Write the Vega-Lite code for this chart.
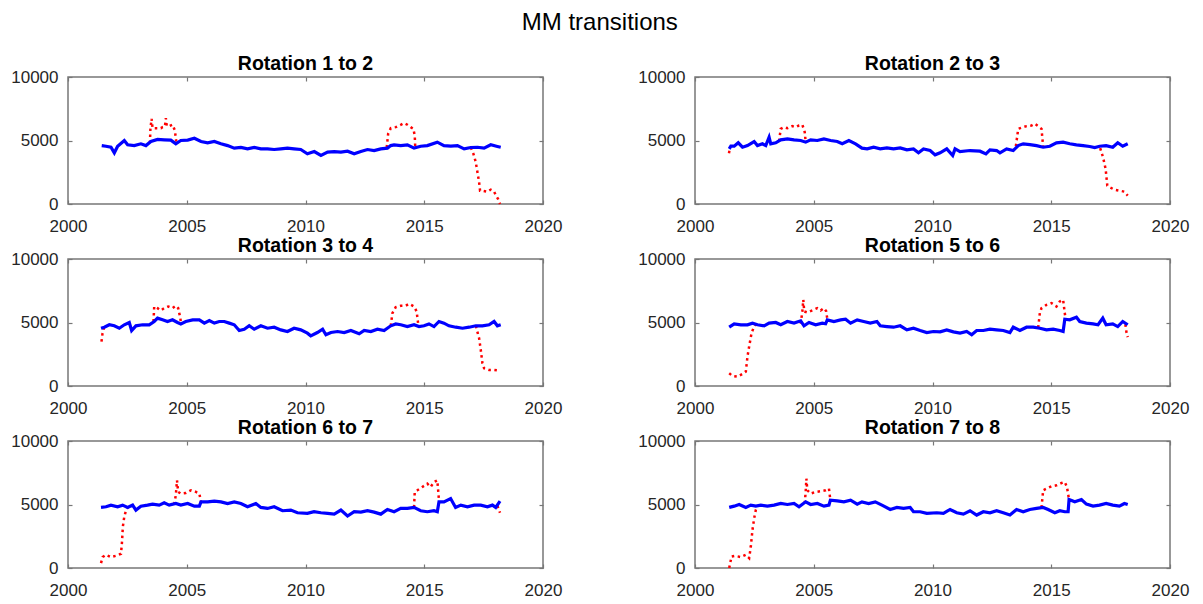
{
"$schema": "https://vega.github.io/schema/vega-lite/v6.json",
"padding": {"left": 9, "top": 11, "right": 5, "bottom": 5},
"title": {"text": "MM transitions", "fontSize": 24, "fontWeight": "normal", "font": "Liberation Sans", "color": "#000000", "anchor": "middle", "offset": 18},
"datasets": {
"blue": [
{"p":1,"t":2001.42,"v":4600},{"p":1,"t":2001.6,"v":4550},{"p":1,"t":2001.81,"v":4470},{"p":1,"t":2001.95,"v":4030},{"p":1,"t":2002.09,"v":4550},{"p":1,"t":2002.37,"v":5000},{"p":1,"t":2002.51,"v":4660},{"p":1,"t":2002.79,"v":4600},{"p":1,"t":2003.07,"v":4740},{"p":1,"t":2003.28,"v":4600},{"p":1,"t":2003.49,"v":4920},{"p":1,"t":2003.77,"v":5080},{"p":1,"t":2004.05,"v":5050},{"p":1,"t":2004.33,"v":5030},{"p":1,"t":2004.54,"v":4740},{"p":1,"t":2004.75,"v":5000},{"p":1,"t":2005.04,"v":5030},{"p":1,"t":2005.32,"v":5180},{"p":1,"t":2005.6,"v":4920},{"p":1,"t":2005.88,"v":4820},{"p":1,"t":2006.16,"v":4920},{"p":1,"t":2006.44,"v":4740},{"p":1,"t":2006.72,"v":4600},{"p":1,"t":2007.0,"v":4400},{"p":1,"t":2007.28,"v":4450},{"p":1,"t":2007.56,"v":4340},{"p":1,"t":2007.84,"v":4450},{"p":1,"t":2008.12,"v":4340},{"p":1,"t":2008.4,"v":4340},{"p":1,"t":2008.68,"v":4290},{"p":1,"t":2008.96,"v":4340},{"p":1,"t":2009.24,"v":4400},{"p":1,"t":2009.52,"v":4340},{"p":1,"t":2009.8,"v":4290},{"p":1,"t":2010.08,"v":3950},{"p":1,"t":2010.37,"v":4130},{"p":1,"t":2010.65,"v":3820},{"p":1,"t":2010.93,"v":4080},{"p":1,"t":2011.21,"v":4130},{"p":1,"t":2011.49,"v":4080},{"p":1,"t":2011.77,"v":4160},{"p":1,"t":2012.05,"v":3950},{"p":1,"t":2012.33,"v":4130},{"p":1,"t":2012.61,"v":4290},{"p":1,"t":2012.89,"v":4210},{"p":1,"t":2013.17,"v":4340},{"p":1,"t":2013.45,"v":4400},{"p":1,"t":2013.59,"v":4600},{"p":1,"t":2013.73,"v":4660},{"p":1,"t":2014.01,"v":4600},{"p":1,"t":2014.29,"v":4660},{"p":1,"t":2014.57,"v":4400},{"p":1,"t":2014.85,"v":4550},{"p":1,"t":2015.13,"v":4600},{"p":1,"t":2015.55,"v":4870},{"p":1,"t":2015.83,"v":4600},{"p":1,"t":2016.12,"v":4550},{"p":1,"t":2016.4,"v":4600},{"p":1,"t":2016.68,"v":4340},{"p":1,"t":2016.96,"v":4450},{"p":1,"t":2017.24,"v":4470},{"p":1,"t":2017.52,"v":4400},{"p":1,"t":2017.8,"v":4660},{"p":1,"t":2018.08,"v":4530},{"p":1,"t":2018.22,"v":4470},
{"p":2,"t":2001.44,"v":4340},{"p":2,"t":2001.51,"v":4550},{"p":2,"t":2001.65,"v":4550},{"p":2,"t":2001.82,"v":4820},{"p":2,"t":2002.0,"v":4470},{"p":2,"t":2002.21,"v":4600},{"p":2,"t":2002.49,"v":4920},{"p":2,"t":2002.63,"v":4600},{"p":2,"t":2002.84,"v":4740},{"p":2,"t":2002.98,"v":4600},{"p":2,"t":2003.12,"v":5260},{"p":2,"t":2003.19,"v":4740},{"p":2,"t":2003.4,"v":4820},{"p":2,"t":2003.61,"v":5050},{"p":2,"t":2003.89,"v":5130},{"p":2,"t":2004.17,"v":5050},{"p":2,"t":2004.45,"v":5000},{"p":2,"t":2004.66,"v":4870},{"p":2,"t":2004.87,"v":5050},{"p":2,"t":2005.15,"v":5000},{"p":2,"t":2005.43,"v":5130},{"p":2,"t":2005.71,"v":5000},{"p":2,"t":2005.99,"v":4920},{"p":2,"t":2006.2,"v":4740},{"p":2,"t":2006.48,"v":5000},{"p":2,"t":2006.76,"v":4740},{"p":2,"t":2007.03,"v":4400},{"p":2,"t":2007.25,"v":4340},{"p":2,"t":2007.52,"v":4470},{"p":2,"t":2007.8,"v":4340},{"p":2,"t":2008.08,"v":4420},{"p":2,"t":2008.36,"v":4340},{"p":2,"t":2008.64,"v":4420},{"p":2,"t":2008.92,"v":4260},{"p":2,"t":2009.2,"v":4340},{"p":2,"t":2009.41,"v":4030},{"p":2,"t":2009.62,"v":4340},{"p":2,"t":2009.9,"v":4210},{"p":2,"t":2010.11,"v":3870},{"p":2,"t":2010.32,"v":4030},{"p":2,"t":2010.6,"v":4340},{"p":2,"t":2010.85,"v":3820},{"p":2,"t":2010.95,"v":4340},{"p":2,"t":2011.16,"v":4130},{"p":2,"t":2011.58,"v":4210},{"p":2,"t":2012.0,"v":4160},{"p":2,"t":2012.25,"v":3950},{"p":2,"t":2012.42,"v":4260},{"p":2,"t":2012.7,"v":4210},{"p":2,"t":2012.84,"v":4030},{"p":2,"t":2013.12,"v":4340},{"p":2,"t":2013.4,"v":4210},{"p":2,"t":2013.61,"v":4600},{"p":2,"t":2013.82,"v":4740},{"p":2,"t":2014.1,"v":4680},{"p":2,"t":2014.38,"v":4600},{"p":2,"t":2014.66,"v":4470},{"p":2,"t":2014.94,"v":4550},{"p":2,"t":2015.22,"v":4820},{"p":2,"t":2015.5,"v":4870},{"p":2,"t":2015.78,"v":4740},{"p":2,"t":2016.06,"v":4660},{"p":2,"t":2016.34,"v":4600},{"p":2,"t":2016.62,"v":4530},{"p":2,"t":2016.83,"v":4450},{"p":2,"t":2017.04,"v":4550},{"p":2,"t":2017.31,"v":4600},{"p":2,"t":2017.59,"v":4470},{"p":2,"t":2017.8,"v":4820},{"p":2,"t":2018.01,"v":4550},{"p":2,"t":2018.22,"v":4740},
{"p":3,"t":2001.39,"v":4550},{"p":3,"t":2001.53,"v":4630},{"p":3,"t":2001.74,"v":4820},{"p":3,"t":2001.95,"v":4740},{"p":3,"t":2002.16,"v":4550},{"p":3,"t":2002.37,"v":4820},{"p":3,"t":2002.58,"v":5000},{"p":3,"t":2002.68,"v":4370},{"p":3,"t":2002.86,"v":4740},{"p":3,"t":2003.14,"v":4820},{"p":3,"t":2003.42,"v":4820},{"p":3,"t":2003.63,"v":5080},{"p":3,"t":2003.77,"v":5340},{"p":3,"t":2003.98,"v":5210},{"p":3,"t":2004.19,"v":5080},{"p":3,"t":2004.4,"v":5210},{"p":3,"t":2004.61,"v":5000},{"p":3,"t":2004.75,"v":4890},{"p":3,"t":2004.96,"v":5080},{"p":3,"t":2005.25,"v":5210},{"p":3,"t":2005.53,"v":5210},{"p":3,"t":2005.74,"v":4950},{"p":3,"t":2005.95,"v":5160},{"p":3,"t":2006.16,"v":4950},{"p":3,"t":2006.37,"v":5080},{"p":3,"t":2006.58,"v":5080},{"p":3,"t":2006.79,"v":4950},{"p":3,"t":2007.0,"v":4820},{"p":3,"t":2007.21,"v":4370},{"p":3,"t":2007.42,"v":4470},{"p":3,"t":2007.63,"v":4740},{"p":3,"t":2007.84,"v":4470},{"p":3,"t":2008.12,"v":4740},{"p":3,"t":2008.4,"v":4550},{"p":3,"t":2008.68,"v":4630},{"p":3,"t":2008.96,"v":4420},{"p":3,"t":2009.24,"v":4290},{"p":3,"t":2009.52,"v":4550},{"p":3,"t":2009.8,"v":4420},{"p":3,"t":2010.08,"v":4160},{"p":3,"t":2010.22,"v":3950},{"p":3,"t":2010.5,"v":4210},{"p":3,"t":2010.72,"v":4470},{"p":3,"t":2010.86,"v":4030},{"p":3,"t":2011.07,"v":4210},{"p":3,"t":2011.35,"v":4290},{"p":3,"t":2011.63,"v":4210},{"p":3,"t":2011.91,"v":4370},{"p":3,"t":2012.26,"v":4110},{"p":3,"t":2012.47,"v":4370},{"p":3,"t":2012.75,"v":4290},{"p":3,"t":2013.03,"v":4470},{"p":3,"t":2013.31,"v":4370},{"p":3,"t":2013.59,"v":4740},{"p":3,"t":2013.8,"v":4890},{"p":3,"t":2014.01,"v":4820},{"p":3,"t":2014.29,"v":4680},{"p":3,"t":2014.57,"v":4820},{"p":3,"t":2014.78,"v":4680},{"p":3,"t":2014.99,"v":4740},{"p":3,"t":2015.2,"v":4890},{"p":3,"t":2015.41,"v":4680},{"p":3,"t":2015.62,"v":5080},{"p":3,"t":2015.83,"v":4950},{"p":3,"t":2016.04,"v":4740},{"p":3,"t":2016.33,"v":4630},{"p":3,"t":2016.61,"v":4550},{"p":3,"t":2016.89,"v":4630},{"p":3,"t":2017.17,"v":4740},{"p":3,"t":2017.45,"v":4740},{"p":3,"t":2017.73,"v":4820},{"p":3,"t":2017.94,"v":5080},{"p":3,"t":2018.08,"v":4740},{"p":3,"t":2018.22,"v":4820},
{"p":4,"t":2001.44,"v":4630},{"p":4,"t":2001.65,"v":4890},{"p":4,"t":2001.93,"v":4820},{"p":4,"t":2002.21,"v":4820},{"p":4,"t":2002.42,"v":4950},{"p":4,"t":2002.63,"v":4820},{"p":4,"t":2002.91,"v":4740},{"p":4,"t":2003.12,"v":4950},{"p":4,"t":2003.4,"v":5000},{"p":4,"t":2003.61,"v":4820},{"p":4,"t":2003.89,"v":5080},{"p":4,"t":2004.17,"v":4950},{"p":4,"t":2004.45,"v":5130},{"p":4,"t":2004.59,"v":4740},{"p":4,"t":2004.8,"v":5000},{"p":4,"t":2005.08,"v":4820},{"p":4,"t":2005.36,"v":4950},{"p":4,"t":2005.5,"v":4900},{"p":4,"t":2005.57,"v":5210},{"p":4,"t":2005.85,"v":5080},{"p":4,"t":2006.13,"v":5210},{"p":4,"t":2006.34,"v":5260},{"p":4,"t":2006.55,"v":4950},{"p":4,"t":2006.83,"v":5210},{"p":4,"t":2007.1,"v":5080},{"p":4,"t":2007.38,"v":4950},{"p":4,"t":2007.66,"v":5080},{"p":4,"t":2007.8,"v":4740},{"p":4,"t":2008.08,"v":4680},{"p":4,"t":2008.36,"v":4630},{"p":4,"t":2008.64,"v":4740},{"p":4,"t":2008.92,"v":4420},{"p":4,"t":2009.2,"v":4550},{"p":4,"t":2009.48,"v":4370},{"p":4,"t":2009.76,"v":4210},{"p":4,"t":2010.04,"v":4290},{"p":4,"t":2010.32,"v":4260},{"p":4,"t":2010.6,"v":4420},{"p":4,"t":2010.88,"v":4260},{"p":4,"t":2011.16,"v":4160},{"p":4,"t":2011.44,"v":4290},{"p":4,"t":2011.65,"v":4030},{"p":4,"t":2011.86,"v":4370},{"p":4,"t":2012.14,"v":4370},{"p":4,"t":2012.42,"v":4470},{"p":4,"t":2012.7,"v":4420},{"p":4,"t":2012.98,"v":4370},{"p":4,"t":2013.26,"v":4210},{"p":4,"t":2013.4,"v":4630},{"p":4,"t":2013.68,"v":4370},{"p":4,"t":2013.96,"v":4630},{"p":4,"t":2014.24,"v":4630},{"p":4,"t":2014.52,"v":4550},{"p":4,"t":2014.8,"v":4420},{"p":4,"t":2015.08,"v":4470},{"p":4,"t":2015.36,"v":4370},{"p":4,"t":2015.5,"v":4290},{"p":4,"t":2015.57,"v":5260},{"p":4,"t":2015.78,"v":5210},{"p":4,"t":2016.06,"v":5420},{"p":4,"t":2016.2,"v":5080},{"p":4,"t":2016.48,"v":4950},{"p":4,"t":2016.76,"v":4890},{"p":4,"t":2016.97,"v":4820},{"p":4,"t":2017.17,"v":5340},{"p":4,"t":2017.31,"v":4820},{"p":4,"t":2017.59,"v":4890},{"p":4,"t":2017.8,"v":4680},{"p":4,"t":2018.01,"v":5080},{"p":4,"t":2018.22,"v":4820},
{"p":5,"t":2001.39,"v":4770},{"p":5,"t":2001.6,"v":4820},{"p":5,"t":2001.81,"v":4950},{"p":5,"t":2002.09,"v":4820},{"p":5,"t":2002.3,"v":4950},{"p":5,"t":2002.51,"v":4770},{"p":5,"t":2002.72,"v":4950},{"p":5,"t":2002.86,"v":4560},{"p":5,"t":2003.07,"v":4870},{"p":5,"t":2003.35,"v":4950},{"p":5,"t":2003.56,"v":5030},{"p":5,"t":2003.84,"v":4950},{"p":5,"t":2004.05,"v":5130},{"p":5,"t":2004.26,"v":4950},{"p":5,"t":2004.54,"v":5080},{"p":5,"t":2004.75,"v":4950},{"p":5,"t":2005.04,"v":5080},{"p":5,"t":2005.32,"v":4870},{"p":5,"t":2005.53,"v":4870},{"p":5,"t":2005.6,"v":5210},{"p":5,"t":2005.88,"v":5210},{"p":5,"t":2006.16,"v":5260},{"p":5,"t":2006.44,"v":5210},{"p":5,"t":2006.72,"v":5080},{"p":5,"t":2007.0,"v":5210},{"p":5,"t":2007.28,"v":5080},{"p":5,"t":2007.56,"v":4820},{"p":5,"t":2007.91,"v":5080},{"p":5,"t":2008.12,"v":4770},{"p":5,"t":2008.4,"v":4690},{"p":5,"t":2008.68,"v":4820},{"p":5,"t":2009.03,"v":4510},{"p":5,"t":2009.38,"v":4560},{"p":5,"t":2009.66,"v":4350},{"p":5,"t":2010.08,"v":4300},{"p":5,"t":2010.36,"v":4430},{"p":5,"t":2010.65,"v":4350},{"p":5,"t":2010.93,"v":4300},{"p":5,"t":2011.21,"v":4240},{"p":5,"t":2011.49,"v":4560},{"p":5,"t":2011.77,"v":4090},{"p":5,"t":2012.05,"v":4430},{"p":5,"t":2012.33,"v":4400},{"p":5,"t":2012.61,"v":4510},{"p":5,"t":2012.89,"v":4400},{"p":5,"t":2013.17,"v":4240},{"p":5,"t":2013.45,"v":4610},{"p":5,"t":2013.73,"v":4430},{"p":5,"t":2014.01,"v":4690},{"p":5,"t":2014.29,"v":4690},{"p":5,"t":2014.57,"v":4770},{"p":5,"t":2014.85,"v":4510},{"p":5,"t":2015.13,"v":4430},{"p":5,"t":2015.41,"v":4510},{"p":5,"t":2015.55,"v":4430},{"p":5,"t":2015.62,"v":5210},{"p":5,"t":2015.83,"v":5210},{"p":5,"t":2016.11,"v":5470},{"p":5,"t":2016.32,"v":4770},{"p":5,"t":2016.54,"v":4950},{"p":5,"t":2016.82,"v":4820},{"p":5,"t":2017.1,"v":4950},{"p":5,"t":2017.38,"v":4950},{"p":5,"t":2017.66,"v":4820},{"p":5,"t":2017.87,"v":4950},{"p":5,"t":2018.01,"v":4770},{"p":5,"t":2018.19,"v":5260},
{"p":6,"t":2001.44,"v":4770},{"p":6,"t":2001.65,"v":4870},{"p":6,"t":2001.86,"v":5000},{"p":6,"t":2002.14,"v":4770},{"p":6,"t":2002.35,"v":4950},{"p":6,"t":2002.56,"v":4870},{"p":6,"t":2002.77,"v":4950},{"p":6,"t":2003.05,"v":4870},{"p":6,"t":2003.33,"v":4950},{"p":6,"t":2003.61,"v":5080},{"p":6,"t":2003.89,"v":5000},{"p":6,"t":2004.17,"v":5080},{"p":6,"t":2004.38,"v":4820},{"p":6,"t":2004.66,"v":5210},{"p":6,"t":2004.87,"v":5000},{"p":6,"t":2005.15,"v":5080},{"p":6,"t":2005.43,"v":4870},{"p":6,"t":2005.64,"v":4950},{"p":6,"t":2005.7,"v":5340},{"p":6,"t":2005.99,"v":5290},{"p":6,"t":2006.27,"v":5210},{"p":6,"t":2006.55,"v":5340},{"p":6,"t":2006.83,"v":5030},{"p":6,"t":2007.03,"v":5210},{"p":6,"t":2007.31,"v":5080},{"p":6,"t":2007.59,"v":5210},{"p":6,"t":2007.87,"v":4950},{"p":6,"t":2008.22,"v":4610},{"p":6,"t":2008.5,"v":4770},{"p":6,"t":2008.78,"v":4690},{"p":6,"t":2009.06,"v":4770},{"p":6,"t":2009.2,"v":4430},{"p":6,"t":2009.48,"v":4430},{"p":6,"t":2009.76,"v":4300},{"p":6,"t":2010.18,"v":4350},{"p":6,"t":2010.46,"v":4300},{"p":6,"t":2010.74,"v":4610},{"p":6,"t":2011.02,"v":4350},{"p":6,"t":2011.3,"v":4240},{"p":6,"t":2011.58,"v":4510},{"p":6,"t":2011.86,"v":4170},{"p":6,"t":2012.14,"v":4430},{"p":6,"t":2012.42,"v":4350},{"p":6,"t":2012.7,"v":4510},{"p":6,"t":2012.98,"v":4350},{"p":6,"t":2013.26,"v":4170},{"p":6,"t":2013.54,"v":4610},{"p":6,"t":2013.82,"v":4430},{"p":6,"t":2014.1,"v":4610},{"p":6,"t":2014.38,"v":4690},{"p":6,"t":2014.66,"v":4770},{"p":6,"t":2014.87,"v":4610},{"p":6,"t":2015.15,"v":4350},{"p":6,"t":2015.36,"v":4510},{"p":6,"t":2015.57,"v":4430},{"p":6,"t":2015.71,"v":4430},{"p":6,"t":2015.75,"v":5390},{"p":6,"t":2015.99,"v":5210},{"p":6,"t":2016.27,"v":5390},{"p":6,"t":2016.48,"v":5030},{"p":6,"t":2016.76,"v":4870},{"p":6,"t":2017.03,"v":4950},{"p":6,"t":2017.31,"v":5080},{"p":6,"t":2017.59,"v":4950},{"p":6,"t":2017.87,"v":4870},{"p":6,"t":2018.08,"v":5080},{"p":6,"t":2018.22,"v":5000}
],
"red": [
{"p":1,"g":1,"t":2003.45,"v":4800},{"p":1,"g":1,"t":2003.47,"v":5920},{"p":1,"g":1,"t":2003.52,"v":6710},{"p":1,"g":1,"t":2003.56,"v":5970},{"p":1,"g":1,"t":2003.91,"v":5970},{"p":1,"g":1,"t":2003.98,"v":6050},{"p":1,"g":1,"t":2004.08,"v":6100},{"p":1,"g":1,"t":2004.12,"v":6760},{"p":1,"g":1,"t":2004.16,"v":6130},{"p":1,"g":1,"t":2004.26,"v":6130},{"p":1,"g":1,"t":2004.4,"v":6240},{"p":1,"g":1,"t":2004.5,"v":5790},{"p":1,"g":1,"t":2004.57,"v":4740},
{"p":1,"g":2,"t":2013.42,"v":4450},{"p":1,"g":2,"t":2013.48,"v":5530},{"p":1,"g":2,"t":2013.59,"v":5970},{"p":1,"g":2,"t":2013.8,"v":6050},{"p":1,"g":2,"t":2014.01,"v":6240},{"p":1,"g":2,"t":2014.15,"v":6370},{"p":1,"g":2,"t":2014.29,"v":6240},{"p":1,"g":2,"t":2014.43,"v":6050},{"p":1,"g":2,"t":2014.54,"v":5920},{"p":1,"g":2,"t":2014.6,"v":5390},{"p":1,"g":2,"t":2014.62,"v":4500},
{"p":1,"g":3,"t":2016.96,"v":4450},{"p":1,"g":3,"t":2017.07,"v":3950},{"p":1,"g":3,"t":2017.17,"v":3290},{"p":1,"g":3,"t":2017.24,"v":2500},{"p":1,"g":3,"t":2017.31,"v":1710},{"p":1,"g":3,"t":2017.35,"v":1050},{"p":1,"g":3,"t":2017.45,"v":1050},{"p":1,"g":3,"t":2017.66,"v":970},{"p":1,"g":3,"t":2017.8,"v":1130},{"p":1,"g":3,"t":2017.94,"v":970},{"p":1,"g":3,"t":2018.01,"v":710},{"p":1,"g":3,"t":2018.11,"v":390},{"p":1,"g":3,"t":2018.19,"v":0},
{"p":2,"g":0,"t":2001.43,"v":4000},{"p":2,"g":0,"t":2001.47,"v":4400},
{"p":2,"g":1,"t":2003.54,"v":4950},{"p":2,"g":1,"t":2003.61,"v":5920},{"p":2,"g":1,"t":2003.75,"v":6050},{"p":2,"g":1,"t":2003.89,"v":5970},{"p":2,"g":1,"t":2004.1,"v":6130},{"p":2,"g":1,"t":2004.24,"v":6050},{"p":2,"g":1,"t":2004.38,"v":6180},{"p":2,"g":1,"t":2004.52,"v":6240},{"p":2,"g":1,"t":2004.62,"v":5660},{"p":2,"g":1,"t":2004.66,"v":4900},
{"p":2,"g":2,"t":2013.51,"v":4550},{"p":2,"g":2,"t":2013.61,"v":5920},{"p":2,"g":2,"t":2013.82,"v":6050},{"p":2,"g":2,"t":2013.96,"v":6130},{"p":2,"g":2,"t":2014.17,"v":6180},{"p":2,"g":2,"t":2014.31,"v":6320},{"p":2,"g":2,"t":2014.45,"v":6130},{"p":2,"g":2,"t":2014.59,"v":5920},{"p":2,"g":2,"t":2014.66,"v":4500},
{"p":2,"g":3,"t":2017.06,"v":4400},{"p":2,"g":3,"t":2017.18,"v":3680},{"p":2,"g":3,"t":2017.29,"v":2760},{"p":2,"g":3,"t":2017.36,"v":1450},{"p":2,"g":3,"t":2017.46,"v":1320},{"p":2,"g":3,"t":2017.66,"v":1130},{"p":2,"g":3,"t":2017.87,"v":1050},{"p":2,"g":3,"t":2018.08,"v":970},{"p":2,"g":3,"t":2018.22,"v":660},
{"p":3,"g":0,"t":2001.41,"v":3500},{"p":3,"g":0,"t":2001.45,"v":4100},{"p":3,"g":0,"t":2001.52,"v":4620},
{"p":3,"g":1,"t":2003.6,"v":5080},{"p":3,"g":1,"t":2003.63,"v":6260},{"p":3,"g":1,"t":2003.77,"v":6130},{"p":3,"g":1,"t":2003.91,"v":5950},{"p":3,"g":1,"t":2004.05,"v":6130},{"p":3,"g":1,"t":2004.22,"v":6260},{"p":3,"g":1,"t":2004.4,"v":6130},{"p":3,"g":1,"t":2004.54,"v":6320},{"p":3,"g":1,"t":2004.64,"v":6130},{"p":3,"g":1,"t":2004.73,"v":5340},{"p":3,"g":1,"t":2004.76,"v":4890},
{"p":3,"g":2,"t":2013.59,"v":4740},{"p":3,"g":2,"t":2013.66,"v":5740},{"p":3,"g":2,"t":2013.8,"v":6210},{"p":3,"g":2,"t":2014.01,"v":6320},{"p":3,"g":2,"t":2014.22,"v":6320},{"p":3,"g":2,"t":2014.36,"v":6470},{"p":3,"g":2,"t":2014.57,"v":6260},{"p":3,"g":2,"t":2014.68,"v":5870},{"p":3,"g":2,"t":2014.74,"v":4950},
{"p":3,"g":3,"t":2017.17,"v":4740},{"p":3,"g":3,"t":2017.31,"v":3760},{"p":3,"g":3,"t":2017.38,"v":2840},{"p":3,"g":3,"t":2017.45,"v":1790},{"p":3,"g":3,"t":2017.52,"v":1390},{"p":3,"g":3,"t":2017.73,"v":1260},{"p":3,"g":3,"t":2017.94,"v":1260},{"p":3,"g":3,"t":2018.15,"v":1210},
{"p":4,"g":1,"t":2001.44,"v":1000},{"p":4,"g":1,"t":2001.58,"v":790},{"p":4,"g":1,"t":2001.79,"v":740},{"p":4,"g":1,"t":2002.0,"v":950},{"p":4,"g":1,"t":2002.14,"v":1130},{"p":4,"g":1,"t":2002.21,"v":2320},{"p":4,"g":1,"t":2002.28,"v":3110},{"p":4,"g":1,"t":2002.38,"v":4160},{"p":4,"g":1,"t":2002.46,"v":4550},{"p":4,"g":1,"t":2002.56,"v":4850},
{"p":4,"g":2,"t":2004.45,"v":4900},{"p":4,"g":2,"t":2004.52,"v":5870},{"p":4,"g":2,"t":2004.56,"v":6790},{"p":4,"g":2,"t":2004.6,"v":5870},{"p":4,"g":2,"t":2004.73,"v":5790},{"p":4,"g":2,"t":2004.94,"v":5950},{"p":4,"g":2,"t":2005.15,"v":6130},{"p":4,"g":2,"t":2005.29,"v":5950},{"p":4,"g":2,"t":2005.43,"v":6130},{"p":4,"g":2,"t":2005.52,"v":5900},{"p":4,"g":2,"t":2005.57,"v":5300},
{"p":4,"g":3,"t":2014.45,"v":4600},{"p":4,"g":3,"t":2014.52,"v":5740},{"p":4,"g":3,"t":2014.59,"v":6130},{"p":4,"g":3,"t":2014.8,"v":6390},{"p":4,"g":3,"t":2015.01,"v":6530},{"p":4,"g":3,"t":2015.22,"v":6260},{"p":4,"g":3,"t":2015.36,"v":6660},{"p":4,"g":3,"t":2015.5,"v":6790},{"p":4,"g":3,"t":2015.57,"v":5740},{"p":4,"g":3,"t":2015.61,"v":5210},
{"p":4,"g":4,"t":2018.12,"v":4850},{"p":4,"g":4,"t":2018.17,"v":4200},{"p":4,"g":4,"t":2018.22,"v":3850},
{"p":5,"g":1,"t":2001.39,"v":390},{"p":5,"g":1,"t":2001.46,"v":860},{"p":5,"g":1,"t":2001.6,"v":1040},{"p":5,"g":1,"t":2001.81,"v":860},{"p":5,"g":1,"t":2002.02,"v":960},{"p":5,"g":1,"t":2002.23,"v":1120},{"p":5,"g":1,"t":2002.27,"v":1950},{"p":5,"g":1,"t":2002.31,"v":3260},{"p":5,"g":1,"t":2002.37,"v":4040},{"p":5,"g":1,"t":2002.44,"v":4510},{"p":5,"g":1,"t":2002.51,"v":4770},
{"p":5,"g":2,"t":2004.47,"v":5000},{"p":5,"g":2,"t":2004.54,"v":5730},{"p":5,"g":2,"t":2004.59,"v":6900},{"p":5,"g":2,"t":2004.64,"v":5990},{"p":5,"g":2,"t":2004.75,"v":5860},{"p":5,"g":2,"t":2004.96,"v":5910},{"p":5,"g":2,"t":2005.18,"v":6120},{"p":5,"g":2,"t":2005.39,"v":5990},{"p":5,"g":2,"t":2005.53,"v":5860},{"p":5,"g":2,"t":2005.6,"v":5210},
{"p":5,"g":3,"t":2014.57,"v":4770},{"p":5,"g":3,"t":2014.6,"v":5990},{"p":5,"g":3,"t":2014.71,"v":6120},{"p":5,"g":3,"t":2014.92,"v":6380},{"p":5,"g":3,"t":2015.13,"v":6640},{"p":5,"g":3,"t":2015.27,"v":6380},{"p":5,"g":3,"t":2015.41,"v":6770},{"p":5,"g":3,"t":2015.55,"v":6900},{"p":5,"g":3,"t":2015.62,"v":5340},
{"p":5,"g":4,"t":2018.08,"v":4900},{"p":5,"g":4,"t":2018.19,"v":4350},
{"p":6,"g":1,"t":2001.44,"v":0},{"p":6,"g":1,"t":2001.54,"v":910},{"p":6,"g":1,"t":2001.68,"v":960},{"p":6,"g":1,"t":2001.93,"v":860},{"p":6,"g":1,"t":2002.14,"v":1040},{"p":6,"g":1,"t":2002.28,"v":780},{"p":6,"g":1,"t":2002.35,"v":1690},{"p":6,"g":1,"t":2002.42,"v":3000},{"p":6,"g":1,"t":2002.49,"v":3910},{"p":6,"g":1,"t":2002.56,"v":4560},{"p":6,"g":1,"t":2002.63,"v":4870},
{"p":6,"g":2,"t":2004.62,"v":5100},{"p":6,"g":2,"t":2004.66,"v":5990},{"p":6,"g":2,"t":2004.69,"v":7030},{"p":6,"g":2,"t":2004.73,"v":6120},{"p":6,"g":2,"t":2004.87,"v":5860},{"p":6,"g":2,"t":2005.08,"v":5990},{"p":6,"g":2,"t":2005.29,"v":6050},{"p":6,"g":2,"t":2005.5,"v":6120},{"p":6,"g":2,"t":2005.64,"v":6250},{"p":6,"g":2,"t":2005.7,"v":5340},
{"p":6,"g":3,"t":2014.59,"v":4750},{"p":6,"g":3,"t":2014.66,"v":6120},{"p":6,"g":3,"t":2014.8,"v":6250},{"p":6,"g":3,"t":2015.01,"v":6430},{"p":6,"g":3,"t":2015.22,"v":6510},{"p":6,"g":3,"t":2015.43,"v":6690},{"p":6,"g":3,"t":2015.57,"v":6770},{"p":6,"g":3,"t":2015.66,"v":6380},{"p":6,"g":3,"t":2015.75,"v":5390}
]
},
"columns": 2,
"spacing": {"row": 55, "column": 152},
"bounds": "flush",
"concat": [
{"title": "Rotation 1 to 2", "width": 475, "height": 127,
 "layer": [
  {"data": {"name": "red"}, "transform": [{"filter": "datum.p == 1"}], "mark": {"type": "line", "color": "#ff0000", "strokeWidth": 2.5, "strokeDash": [2.5, 3.5]},
   "encoding": {"x": {"field": "t", "type": "quantitative", "scale": {"domain": [2000, 2020]}, "axis": {"orient": "top", "values": [2000, 2005, 2010, 2015, 2020], "labels": false, "title": null}},
                "y": {"field": "v", "type": "quantitative", "scale": {"domain": [0, 10000]}, "axis": {"orient": "right", "values": [0, 5000, 10000], "labels": false, "title": null}},
                "detail": {"field": "g"}}},
  {"data": {"name": "blue"}, "transform": [{"filter": "datum.p == 1"}], "mark": {"type": "line", "color": "#0000ff", "strokeWidth": 3.2},
   "encoding": {"x": {"field": "t", "type": "quantitative", "scale": {"domain": [2000, 2020]}, "axis": {"orient": "bottom", "values": [2000, 2005, 2010, 2015, 2020], "format": "d", "title": null}},
                "y": {"field": "v", "type": "quantitative", "scale": {"domain": [0, 10000]}, "axis": {"orient": "left", "values": [0, 5000, 10000], "format": "d", "title": null}}}}
 ],
 "resolve": {"axis": {"x": "independent", "y": "independent"}}},
{"title": "Rotation 2 to 3", "width": 475, "height": 127,
 "layer": [
  {"data": {"name": "red"}, "transform": [{"filter": "datum.p == 2"}], "mark": {"type": "line", "color": "#ff0000", "strokeWidth": 2.5, "strokeDash": [2.5, 3.5]},
   "encoding": {"x": {"field": "t", "type": "quantitative", "scale": {"domain": [2000, 2020]}, "axis": {"orient": "top", "values": [2000, 2005, 2010, 2015, 2020], "labels": false, "title": null}},
                "y": {"field": "v", "type": "quantitative", "scale": {"domain": [0, 10000]}, "axis": {"orient": "right", "values": [0, 5000, 10000], "labels": false, "title": null}},
                "detail": {"field": "g"}}},
  {"data": {"name": "blue"}, "transform": [{"filter": "datum.p == 2"}], "mark": {"type": "line", "color": "#0000ff", "strokeWidth": 3.2},
   "encoding": {"x": {"field": "t", "type": "quantitative", "scale": {"domain": [2000, 2020]}, "axis": {"orient": "bottom", "values": [2000, 2005, 2010, 2015, 2020], "format": "d", "title": null}},
                "y": {"field": "v", "type": "quantitative", "scale": {"domain": [0, 10000]}, "axis": {"orient": "left", "values": [0, 5000, 10000], "format": "d", "title": null}}}}
 ],
 "resolve": {"axis": {"x": "independent", "y": "independent"}}},
{"title": "Rotation 3 to 4", "width": 475, "height": 127,
 "layer": [
  {"data": {"name": "red"}, "transform": [{"filter": "datum.p == 3"}], "mark": {"type": "line", "color": "#ff0000", "strokeWidth": 2.5, "strokeDash": [2.5, 3.5]},
   "encoding": {"x": {"field": "t", "type": "quantitative", "scale": {"domain": [2000, 2020]}, "axis": {"orient": "top", "values": [2000, 2005, 2010, 2015, 2020], "labels": false, "title": null}},
                "y": {"field": "v", "type": "quantitative", "scale": {"domain": [0, 10000]}, "axis": {"orient": "right", "values": [0, 5000, 10000], "labels": false, "title": null}},
                "detail": {"field": "g"}}},
  {"data": {"name": "blue"}, "transform": [{"filter": "datum.p == 3"}], "mark": {"type": "line", "color": "#0000ff", "strokeWidth": 3.2},
   "encoding": {"x": {"field": "t", "type": "quantitative", "scale": {"domain": [2000, 2020]}, "axis": {"orient": "bottom", "values": [2000, 2005, 2010, 2015, 2020], "format": "d", "title": null}},
                "y": {"field": "v", "type": "quantitative", "scale": {"domain": [0, 10000]}, "axis": {"orient": "left", "values": [0, 5000, 10000], "format": "d", "title": null}}}}
 ],
 "resolve": {"axis": {"x": "independent", "y": "independent"}}},
{"title": "Rotation 5 to 6", "width": 475, "height": 127,
 "layer": [
  {"data": {"name": "red"}, "transform": [{"filter": "datum.p == 4"}], "mark": {"type": "line", "color": "#ff0000", "strokeWidth": 2.5, "strokeDash": [2.5, 3.5]},
   "encoding": {"x": {"field": "t", "type": "quantitative", "scale": {"domain": [2000, 2020]}, "axis": {"orient": "top", "values": [2000, 2005, 2010, 2015, 2020], "labels": false, "title": null}},
                "y": {"field": "v", "type": "quantitative", "scale": {"domain": [0, 10000]}, "axis": {"orient": "right", "values": [0, 5000, 10000], "labels": false, "title": null}},
                "detail": {"field": "g"}}},
  {"data": {"name": "blue"}, "transform": [{"filter": "datum.p == 4"}], "mark": {"type": "line", "color": "#0000ff", "strokeWidth": 3.2},
   "encoding": {"x": {"field": "t", "type": "quantitative", "scale": {"domain": [2000, 2020]}, "axis": {"orient": "bottom", "values": [2000, 2005, 2010, 2015, 2020], "format": "d", "title": null}},
                "y": {"field": "v", "type": "quantitative", "scale": {"domain": [0, 10000]}, "axis": {"orient": "left", "values": [0, 5000, 10000], "format": "d", "title": null}}}}
 ],
 "resolve": {"axis": {"x": "independent", "y": "independent"}}},
{"title": "Rotation 6 to 7", "width": 475, "height": 127,
 "layer": [
  {"data": {"name": "red"}, "transform": [{"filter": "datum.p == 5"}], "mark": {"type": "line", "color": "#ff0000", "strokeWidth": 2.5, "strokeDash": [2.5, 3.5]},
   "encoding": {"x": {"field": "t", "type": "quantitative", "scale": {"domain": [2000, 2020]}, "axis": {"orient": "top", "values": [2000, 2005, 2010, 2015, 2020], "labels": false, "title": null}},
                "y": {"field": "v", "type": "quantitative", "scale": {"domain": [0, 10000]}, "axis": {"orient": "right", "values": [0, 5000, 10000], "labels": false, "title": null}},
                "detail": {"field": "g"}}},
  {"data": {"name": "blue"}, "transform": [{"filter": "datum.p == 5"}], "mark": {"type": "line", "color": "#0000ff", "strokeWidth": 3.2},
   "encoding": {"x": {"field": "t", "type": "quantitative", "scale": {"domain": [2000, 2020]}, "axis": {"orient": "bottom", "values": [2000, 2005, 2010, 2015, 2020], "format": "d", "title": null}},
                "y": {"field": "v", "type": "quantitative", "scale": {"domain": [0, 10000]}, "axis": {"orient": "left", "values": [0, 5000, 10000], "format": "d", "title": null}}}}
 ],
 "resolve": {"axis": {"x": "independent", "y": "independent"}}},
{"title": "Rotation 7 to 8", "width": 475, "height": 127,
 "layer": [
  {"data": {"name": "red"}, "transform": [{"filter": "datum.p == 6"}], "mark": {"type": "line", "color": "#ff0000", "strokeWidth": 2.5, "strokeDash": [2.5, 3.5]},
   "encoding": {"x": {"field": "t", "type": "quantitative", "scale": {"domain": [2000, 2020]}, "axis": {"orient": "top", "values": [2000, 2005, 2010, 2015, 2020], "labels": false, "title": null}},
                "y": {"field": "v", "type": "quantitative", "scale": {"domain": [0, 10000]}, "axis": {"orient": "right", "values": [0, 5000, 10000], "labels": false, "title": null}},
                "detail": {"field": "g"}}},
  {"data": {"name": "blue"}, "transform": [{"filter": "datum.p == 6"}], "mark": {"type": "line", "color": "#0000ff", "strokeWidth": 3.2},
   "encoding": {"x": {"field": "t", "type": "quantitative", "scale": {"domain": [2000, 2020]}, "axis": {"orient": "bottom", "values": [2000, 2005, 2010, 2015, 2020], "format": "d", "title": null}},
                "y": {"field": "v", "type": "quantitative", "scale": {"domain": [0, 10000]}, "axis": {"orient": "left", "values": [0, 5000, 10000], "format": "d", "title": null}}}}
 ],
 "resolve": {"axis": {"x": "independent", "y": "independent"}}}
],
"config": {
 "background": "#ffffff",
 "view": {"stroke": "#777777", "strokeWidth": 1.5},
 "axis": {"domain": false, "grid": false, "ticks": true, "tickColor": "#777777", "tickWidth": 1.2, "tickSize": -4, "labelFont": "Liberation Sans", "labelFontSize": 17, "labelColor": "#262626", "labelPadding": 14, "labelFlush": false, "labelOverlap": false},
 "axisX": {"labelPadding": 18},
 "title": {"font": "Liberation Sans", "fontSize": 19.5, "fontWeight": "bold", "color": "#000000", "offset": -6.5}
}
}
